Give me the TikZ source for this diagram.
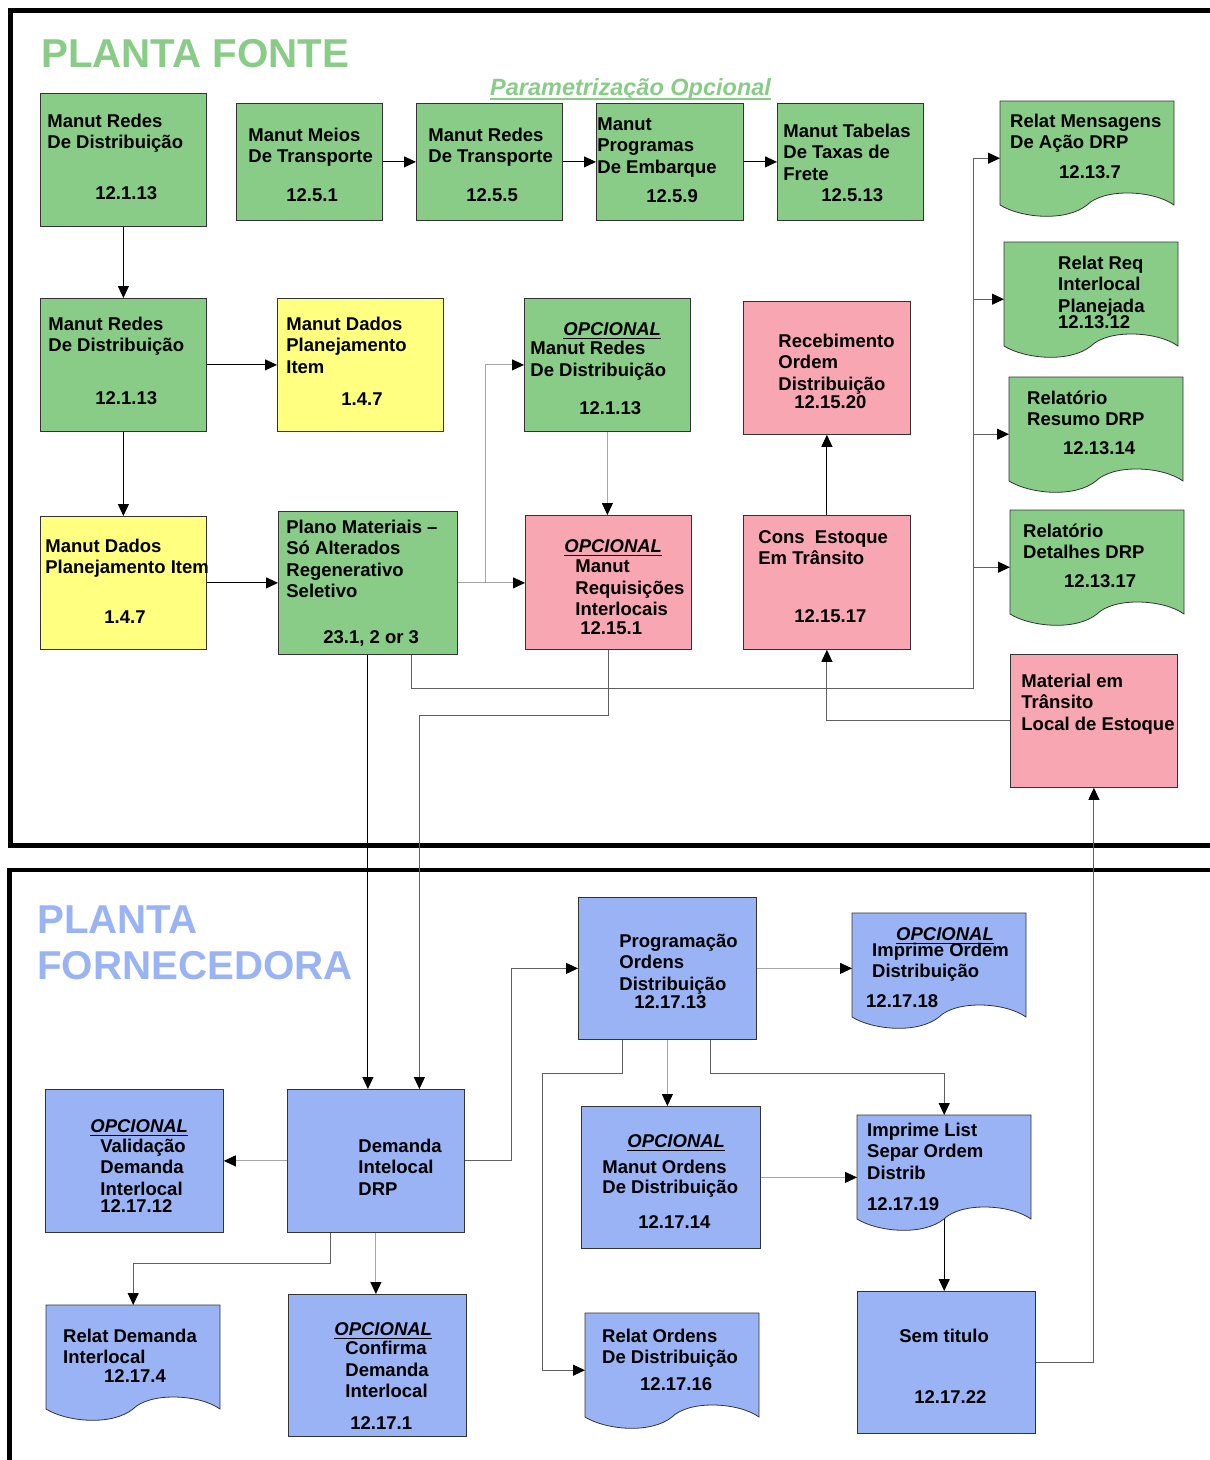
\documentclass[tikz,border=0pt]{standalone}
\usepackage{fontspec}
\setmainfont{Liberation Sans}
\usetikzlibrary{arrows.meta,backgrounds}

\definecolor{fonteverde}{RGB}{136,204,136}
\definecolor{amarelo}{RGB}{255,255,128}
\definecolor{rosa}{RGB}{247,166,178}
\definecolor{azul}{RGB}{153,179,245}
\definecolor{linhacinza}{RGB}{165,165,165}
\definecolor{linhaescura}{RGB}{95,95,95}

\newcommand{\boxfont}{\fontsize{18.5}{21.5}\selectfont\bfseries}
% box text: height, width, top gap, left gap, lines
\newcommand{\bt}[5]{\parbox[t][#1][t]{#2}{\vspace*{#3}\hspace*{#4}\begin{tabular}[t]{@{}l@{}}#5\end{tabular}}}
\newsavebox{\sublbox}
\newcommand{\sublinhado}[1]{\sbox{\sublbox}{#1}\rlap{\rule[-4pt]{\wd\sublbox}{1.5pt}}\usebox{\sublbox}}
\newcommand{\opc}{\sublinhado{\itshape OPCIONAL}}
% report outline with wavy bottom
\newcommand{\docshape}[2]{%
  \begin{scope}[on background layer, shift={(#1.north west)}]
    \filldraw[fill=#2, draw=black!80, line width=0.8pt] (0,0) -- (174,0) -- (174,104)
      .. controls (153,89) and (104,87) .. (87,104)
      .. controls (66,121) and (21,117) .. (0,104) -- cycle;
  \end{scope}}

\tikzset{
  proc/.style={draw=black!80, line width=0.8pt, inner sep=0pt, anchor=north west, font=\boxfont},
  doc/.style={inner sep=0pt, anchor=north west, font=\boxfont},
  seta/.style={line width=1pt, -{Triangle[length=12pt,width=11pt,color=black]}},
  preta/.style={seta, draw=black},
  cinza/.style={seta, draw=linhacinza},
  escura/.style={seta, draw=linhaescura},
}

\begin{document}
\begin{tikzpicture}[x=1pt, y=-1pt]
\useasboundingbox (0,0) rectangle (1210,1460);

% Frames of the two plants
\draw[line width=4.5pt] (1210,10.5) -- (10.5,10.5) -- (10.5,845.5) -- (1210,845.5);
\draw[line width=4.5pt] (1210,870) -- (9.5,870) -- (9.5,1460);

% Titles
\node[anchor=base west, inner sep=0pt, text=fonteverde, font=\fontsize{40.3}{46}\selectfont\bfseries] (tfonte) at (41,67.7) {PLANTA FONTE};
\node[anchor=north west, inner sep=0pt, align=left, text=azul, font=\fontsize{40.3}{46}\selectfont\bfseries] (tforn) at (37,905.5) {PLANTA\\FORNECEDORA};
\node[anchor=base west, inner sep=0pt, text=fonteverde, font=\fontsize{23.5}{26}\selectfont\bfseries\itshape] (tparam) at (490,95.7) {\sublinhado{Parametrização Opcional}};

% Planta fonte: top row
\node[proc, fill=fonteverde] (mrd1) at (40,93) {\bt{133pt}{166pt}{19pt}{7pt}{Manut Redes\\De Distribuição\\[29.5pt]\hspace*{48pt}12.1.13}};
\node[proc, fill=fonteverde] (mmt) at (236,103) {\bt{117pt}{146pt}{23pt}{12pt}{Manut Meios\\De Transporte\\[17.5pt]\hspace*{38pt}12.5.1}};
\node[proc, fill=fonteverde] (mrt) at (416,103) {\bt{117pt}{146pt}{23pt}{12pt}{Manut Redes\\De Transporte\\[17.5pt]\hspace*{38pt}12.5.5}};
\node[proc, fill=fonteverde] (mpe) at (596,103) {\bt{117pt}{147pt}{12pt}{1pt}{Manut\\Programas\\De Embarque\\[7.5pt]\hspace*{49pt}12.5.9}};
\node[proc, fill=fonteverde] (mtf) at (777,103) {\bt{117pt}{146pt}{19pt}{6pt}{Manut Tabelas\\De Taxas de\\Frete\\\hspace*{38pt}12.5.13}};

% Reports on the right
\node[doc] (rmsg) at (1000,101) {\bt{114pt}{174pt}{11pt}{10pt}{Relat Mensagens\\De Ação DRP\\[8pt]\hspace*{49pt}12.13.7}};
\node[doc] (rreq) at (1004,242) {\bt{114pt}{174pt}{12pt}{54pt}{Relat Req\\Interlocal\\Planejada\\[-5pt]12.13.12}};
\node[doc] (rres) at (1009,377) {\bt{114pt}{174pt}{12pt}{18pt}{Relatório\\Resumo DRP\\[7pt]\hspace*{36pt}12.13.14}};
\node[doc] (rdet) at (1010,510) {\bt{114pt}{174pt}{12pt}{13pt}{Relatório\\Detalhes DRP\\[7.5pt]\hspace*{41pt}12.13.17}};

% Middle rows
\node[proc, fill=fonteverde] (mrd2) at (40,298) {\bt{133pt}{166pt}{17pt}{8pt}{Manut Redes\\De Distribuição\\[31.5pt]\hspace*{47pt}12.1.13}};
\node[proc, fill=amarelo] (mdp1) at (277,298) {\bt{133pt}{166pt}{17pt}{9pt}{Manut Dados\\Planejamento\\Item\\[10.5pt]\hspace*{55pt}1.4.7}};
\node[proc, fill=fonteverde] (omrd) at (524,298) {\bt{133pt}{166pt}{22pt}{6pt}{\hspace*{33pt}\opc\\[-2pt]Manut Redes\\De Distribuição\\[17pt]\hspace*{49pt}12.1.13}};
\node[proc, fill=rosa] (rod) at (743,301) {\bt{133pt}{167pt}{31pt}{35pt}{Recebimento\\Ordem\\Distribuição\\[-3pt]\hspace*{16pt}12.15.20}};
\node[proc, fill=amarelo] (mdp2) at (40,516) {\bt{133pt}{166pt}{21pt}{5pt}{Manut Dados\\Planejamento Item\\[28.5pt]\hspace*{59pt}1.4.7}};
\node[proc, fill=fonteverde] (pmat) at (278,511) {\bt{143pt}{179pt}{7pt}{8pt}{Plano Materiais –\\Só Alterados\\Regenerativo\\Seletivo\\[24pt]\hspace*{37pt}23.1, 2 or 3}};
\node[proc, fill=rosa] (omri) at (525,515) {\bt{134pt}{166pt}{22pt}{39pt}{\opc\\[-1pt]\hspace*{11pt}Manut\\\hspace*{11pt}Requisições\\\hspace*{11pt}Interlocais\\[-3pt]\hspace*{16pt}12.15.1}};
\node[proc, fill=rosa] (cet) at (743,515) {\bt{134pt}{167pt}{13pt}{15pt}{Cons\ \ Estoque\\Em Trânsito\\[36pt]\hspace*{36pt}12.15.17}};
\node[proc, fill=rosa] (mtl) at (1010,654) {\bt{133pt}{167pt}{18pt}{11pt}{Material em\\Trânsito\\Local de Estoque}};

% Planta fornecedora
\node[proc, fill=azul] (pod) at (578,897) {\bt{142pt}{178pt}{35pt}{41pt}{Programação\\Ordens\\Distribuição\\[-3pt]\hspace*{15pt}12.17.13}};
\node[doc] (oio) at (852,913) {\bt{114pt}{174pt}{12pt}{14pt}{\hspace*{30pt}\opc\\[-5pt]\hspace*{6pt}Imprime Ordem\\[-1pt]\hspace*{6pt}Distribuição\\[8.5pt]12.17.18}};
\node[proc, fill=azul] (ovd) at (45,1089) {\bt{143pt}{178pt}{28pt}{45pt}{\opc\\[-1.5pt]\hspace*{10pt}Validação\\\hspace*{10pt}Demanda\\\hspace*{10pt}Interlocal\\[-4.5pt]\hspace*{10pt}12.17.12}};
\node[proc, fill=azul] (dem) at (287,1089) {\bt{143pt}{177pt}{48pt}{71pt}{Demanda\\Intelocal\\DRP}};
\node[proc, fill=azul] (omo) at (581,1106) {\bt{142pt}{179pt}{26pt}{21pt}{\hspace*{25pt}\opc\\[5pt]Manut Ordens\\[-1.5pt]De Distribuição\\[13pt]\hspace*{36pt}12.17.14}};
\node[doc] (ils) at (857,1115) {\bt{114pt}{174pt}{6pt}{10pt}{Imprime List\\Separ Ordem\\Distrib\\[10pt]12.17.19}};
\node[doc] (rdi) at (46,1305) {\bt{114pt}{174pt}{22pt}{17pt}{Relat Demanda\\Interlocal\\[-3pt]\hspace*{41pt}12.17.4}};
\node[proc, fill=azul] (ocd) at (288,1294) {\bt{142pt}{178pt}{26pt}{46pt}{\opc\\[-2pt]\hspace*{11pt}Confirma\\\hspace*{11pt}Demanda\\\hspace*{11pt}Interlocal\\[10pt]\hspace*{16pt}12.17.1}};
\node[doc] (rodi) at (585,1313) {\bt{114pt}{174pt}{14pt}{17pt}{Relat Ordens\\De Distribuição\\[5pt]\hspace*{38pt}12.17.16}};
\node[proc, fill=azul] (semt) at (857,1291) {\bt{142pt}{178pt}{36pt}{42pt}{Sem titulo\\[39.5pt]\hspace*{15pt}12.17.22}};

% Report outlines
\foreach \d/\c in {rmsg/fonteverde, rreq/fonteverde, rres/fonteverde, rdet/fonteverde,
                   oio/azul, ils/azul, rdi/azul, rodi/azul} {
    \docshape{\d}{\c}
}

% Connectors, planta fonte
\foreach \a/\b in {mmt/mrt, mrt/mpe, mpe/mtf} {
    \draw[preta] (\a.east) -- (\b.west);
}
\draw[preta] (mrd1.south) -- (mrd2.north);
\draw[preta] (mrd2.east) -- (mdp1.west);
\draw[preta] (mrd2.south) -- (mdp2.north);
\draw[preta] (mdp2.east) -- (mdp2.east -| pmat.west);
\draw[cinza] (pmat.east) -- (pmat.east -| omri.west);
\draw[cinza] ([xshift=28pt]pmat.east) |- (omrd.west);
\draw[cinza] (omrd.south) -- (omrd.south |- omri.north);
\draw[preta] (cet.north) -- (rod.south);
\draw[escura] (mtl.west) -| (cet.south);

% Trunk to the reports
\coordinate (trk) at (973,688);
\draw[escura] ([xshift=43.5pt]pmat.south) |- (trk) |- (rmsg.west);
\foreach \d in {rreq, rres, rdet} {
    \draw[escura] (trk |- \d.west) -- (\d.west);
}

% Between the plants
\draw[preta] (pmat.south) -- (pmat.south |- dem.north);
\draw[escura] (omri.south) -- ++(0,66) -| ([xshift=43.5pt]dem.north);
\draw[escura] (semt.east) -| (mtl.south);

% Connectors, planta fornecedora
\draw[cinza] (dem.west) -- (ovd.east);
\draw[escura] (dem.east) -- ++(47,0) |- (pod.west);
\draw[cinza] (pod.east) -- (pod.east -| oio.west);
\draw[cinza] (pod.south) -- (pod.south |- omo.north);
\draw[escura] ([xshift=-45pt]pod.south) -- ++(0,34) -- ++(-80,0) |- (rodi.west);
\draw[escura] ([xshift=43pt]pod.south) -- ++(0,34) -| (ils.north);
\draw[cinza] (omo.east) -- (omo.east -| ils.west);
\draw[preta] ([yshift=10pt]ils.south) -- (ils.south |- semt.north);
\draw[escura] ([xshift=-45pt]dem.south) -- ++(0,31) -| (rdi.north);
\draw[cinza] (dem.south) -- (dem.south |- ocd.north);

\end{tikzpicture}
\end{document}
